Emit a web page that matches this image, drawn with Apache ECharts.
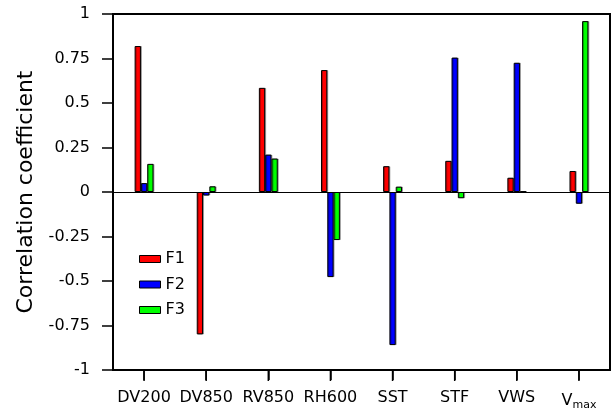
<!DOCTYPE html>
<html>
<head>
<meta charset="utf-8">
<script src="https://cdn.jsdelivr.net/npm/echarts@6/dist/echarts.min.js"></script>
<style>html,body{margin:0;padding:0;background:#fff}#c{width:615px;height:411px}</style>
</head>
<body>
<div id="c"></div>
<script>
const categories = ['DV200', 'DV850', 'RV850', 'RH600', 'SST', 'STF', 'VWS', 'Vmax'];
const seriesNames = ['F1', 'F2', 'F3'];
const F1 = [0.82, -0.80, 0.585, 0.685, 0.145, 0.175, 0.08, 0.118];
const F2 = [0.05, -0.02, 0.21, -0.478, -0.86, 0.755, 0.726, -0.066];
const F3 = [0.158, 0.032, 0.188, -0.27, 0.03, -0.035, 0.004, 0.96];
const yTickLabels = ['-1', '-0.75', '-0.5', '-0.25', '0', '0.25', '0.5', '0.75', '1'];
const colors = ['#ff0000', '#0000ff', '#00ff00'];

const FONT = 'DejaVu Sans';
const chart = echarts.init(document.getElementById('c'), null, {renderer: 'canvas'});
const dataSets = [F1, F2, F3];
const series = dataSets.map((d, i) => ({
  name: seriesNames[i],
  type: 'bar',
  data: d,
  barWidth: 6.3,
  barGap: '0%',
  itemStyle: {color: colors[i], borderColor: '#000', borderWidth: 1,
    shadowColor: 'rgba(0,0,0,0.3)', shadowOffsetX: 1, shadowOffsetY: 0, shadowBlur: 0},
  markLine: i === 0 ? {
    silent: true, symbol: 'none', label: {show: false},
    lineStyle: {color: '#000', width: 1.2, type: 'solid'},
    data: [{yAxis: 0}], animation: false
  } : undefined
}));

chart.setOption({
  animation: false,
  backgroundColor: '#fff',
  textStyle: {fontFamily: FONT},
  grid: {left: 113, right: 5, top: 14, bottom: 41, containLabel: false, outerBoundsMode: 'none',
    show: true, borderColor: '#000', borderWidth: 2, backgroundColor: 'transparent'},
  legend: {
    orient: 'vertical', left: 139, top: 251, padding: 0,
    itemWidth: 21, itemHeight: 7, itemGap: 9.5,
    icon: 'rect',
    textStyle: {fontFamily: FONT, fontSize: 16, color: '#000', padding: [0, 0, 0, 0]},
    itemStyle: {borderColor: '#000', borderWidth: 1},
    data: seriesNames
  },
  xAxis: {
    type: 'category',
    data: categories,
    axisLine: {show: true, onZero: false, lineStyle: {color: '#000', width: 2}},
    axisTick: {show: true, alignWithLabel: true, length: 10, lineStyle: {color: '#000', width: 1.5}},
    axisLabel: {
      interval: 0, margin: 20, color: '#000', fontFamily: FONT, fontSize: 16,
      formatter: v => v === 'Vmax' ? '{v|V}{s|max}' : v,
      rich: {
        v: {fontFamily: FONT, fontSize: 16, color: '#000'},
        s: {fontFamily: FONT, fontSize: 11, color: '#000', padding: [10, 0, 0, 0]}
      }
    }
  },
  yAxis: {
    type: 'value', min: -1, max: 1, interval: 0.25,
    name: 'Correlation coefficient', nameLocation: 'middle', nameRotate: 90, nameGap: 76,
    nameTextStyle: {fontFamily: FONT, fontSize: 22, color: '#000'},
    axisLine: {show: true, lineStyle: {color: '#000', width: 2}},
    axisTick: {show: true, length: 11, lineStyle: {color: '#000', width: 1.5}},
    splitLine: {show: false},
    axisLabel: {
      margin: 23, color: '#000', fontFamily: FONT, fontSize: 16,
      formatter: v => yTickLabels[Math.round((v + 1) / 0.25)]
    }
  },
  series: series
});

// outward tick marks at the category centres, placed through the axis scale
const tickGraphics = categories.map((c, i) => {
  const p = chart.convertToPixel({xAxisIndex: 0, yAxisIndex: 0}, [i, -1]);
  return {type: 'rect', silent: true, z: 100,
    shape: {x: p[0] - 0.75, y: p[1] + 1, width: 1.5, height: 10},
    style: {fill: '#000'}};
});
chart.setOption({graphic: {elements: tickGraphics}});
</script>
</body>
</html>
